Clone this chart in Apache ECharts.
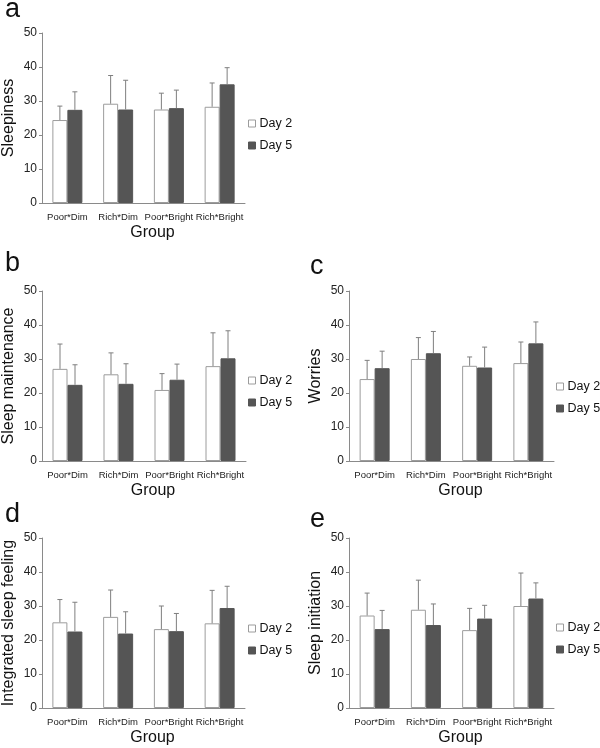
<!DOCTYPE html>
<html>
<head>
<meta charset="utf-8">
<script src="https://cdn.jsdelivr.net/npm/echarts@6/dist/echarts.min.js"></script>
<style>
html,body{margin:0;padding:0;background:#fff;}
#chart{width:600px;height:748px;}
</style>
</head>
<body>
<div id="chart"></div>
<script>
// ---- data ----
const categories = ['Poor*Dim', 'Rich*Dim', 'Poor*Bright', 'Rich*Bright'];
const legendNames = ['Day 2', 'Day 5'];
const panelLetters = ['a', 'b', 'c', 'd', 'e'];
const yAxisNames = ['Sleepiness', 'Sleep maintenance', 'Worries', 'Integrated sleep feeling', 'Sleep initiation'];
const xAxisName = 'Group';
const yTicks = [0, 10, 20, 30, 40, 50];

// means and upper ends of error bars (mean + SD)
const sleepinessDay2 = [24.4, 29.2, 27.5, 28.3];
const sleepinessDay2Upper = [28.5, 37.5, 32.3, 35.3];
const sleepinessDay5 = [27.4, 27.5, 27.9, 34.9];
const sleepinessDay5Upper = [32.7, 36.1, 33.2, 39.8];

const maintenanceDay2 = [27.1, 25.5, 20.9, 27.9];
const maintenanceDay2Upper = [34.4, 31.8, 25.7, 37.7];
const maintenanceDay5 = [22.4, 22.7, 23.9, 30.2];
const maintenanceDay5Upper = [28.3, 28.6, 28.5, 38.3];

const worriesDay2 = [24.1, 30.0, 28.0, 28.8];
const worriesDay2Upper = [29.6, 36.3, 30.6, 35.0];
const worriesDay5 = [27.3, 31.7, 27.5, 34.6];
const worriesDay5Upper = [32.3, 38.1, 33.5, 40.9];

const integratedDay2 = [25.2, 26.8, 23.2, 24.9];
const integratedDay2Upper = [31.9, 34.7, 30.0, 34.6];
const integratedDay5 = [22.5, 21.9, 22.6, 29.4];
const integratedDay5Upper = [31.1, 28.3, 27.8, 35.8];

const initiationDay2 = [27.2, 28.9, 22.9, 30.0];
const initiationDay2Upper = [33.8, 37.6, 29.3, 39.7];
const initiationDay5 = [23.2, 24.4, 26.3, 32.2];
const initiationDay5Upper = [28.7, 30.6, 30.2, 36.8];

const panelData = [
  [sleepinessDay2, sleepinessDay2Upper, sleepinessDay5, sleepinessDay5Upper],
  [maintenanceDay2, maintenanceDay2Upper, maintenanceDay5, maintenanceDay5Upper],
  [worriesDay2, worriesDay2Upper, worriesDay5, worriesDay5Upper],
  [integratedDay2, integratedDay2Upper, integratedDay5, integratedDay5Upper],
  [initiationDay2, initiationDay2Upper, initiationDay5, initiationDay5Upper]
];

// ---- layout ----
const FONT = '"Liberation Sans", Arial, Helvetica, sans-serif';
const grids = [
  {left: 41, top: 33, width: 204, height: 170},
  {left: 41, top: 291, width: 205, height: 170},
  {left: 349, top: 291, width: 205, height: 170},
  {left: 41, top: 538, width: 204, height: 170},
  {left: 349, top: 538, width: 205, height: 170}
];
const letterPos = [
  {left: 5, top: -4}, {left: 5, top: 250}, {left: 310, top: 253},
  {left: 5, top: 501}, {left: 310, top: 506}
];
const legendPos = [
  {left: 248, top: 117}, {left: 248, top: 374}, {left: 556, top: 380},
  {left: 248, top: 622}, {left: 556, top: 621}
];

const BAR_W = 15;
const AXIS_COLOR = '#8a8a8a';
const ERR_COLOR = '#7f7f7f';
const DARK = '#555555';
const WHITE_BORDER = '#9c9c9c';

function errRenderer(offset) {
  return function (params, api) {
    const idx = api.value(0);
    const mean = api.value(1);
    const up = api.value(2);
    const p0 = api.coord([idx, mean]);
    const p1 = api.coord([idx, up]);
    const x = p0[0] + offset;
    return {
      type: 'group',
      children: [
        {type: 'line', shape: {x1: x, y1: p0[1], x2: x, y2: p1[1]},
         style: {stroke: ERR_COLOR, lineWidth: 1}},
        {type: 'line', shape: {x1: x - 2.5, y1: p1[1], x2: x + 2.5, y2: p1[1]},
         style: {stroke: ERR_COLOR, lineWidth: 1}}
      ]
    };
  };
}

const option = {
  animation: false,
  backgroundColor: '#ffffff',
  textStyle: {fontFamily: FONT},
  title: panelLetters.map((t, i) => ({
    text: t, left: letterPos[i].left, top: letterPos[i].top, padding: 0,
    textStyle: {fontSize: 27, fontWeight: 'normal', color: '#111', fontFamily: FONT}
  })),
  legend: legendPos.map(p => ({
    data: legendNames, orient: 'vertical', left: p.left, top: p.top, padding: 0,
    itemWidth: 7, itemHeight: 7, itemGap: 9, selectedMode: false, icon: 'rect',
    itemStyle: {borderWidth: 1},
    textStyle: {fontSize: 12.5, color: '#111', fontFamily: FONT, padding: [0, 0, 0, -1]}
  })),
  grid: grids,
  xAxis: grids.map((g, i) => ({
    type: 'category', gridIndex: i, data: categories,
    name: xAxisName, nameLocation: 'middle', nameGap: 22,
    nameTextStyle: {fontSize: 16, color: '#111', fontFamily: FONT, padding: [0, 0, 0, 18]},
    axisLine: {lineStyle: {color: AXIS_COLOR, width: 1}},
    axisTick: {show: false},
    axisLabel: {fontSize: 9.5, color: '#222', margin: 9, interval: 0, fontFamily: FONT}
  })),
  yAxis: grids.map((g, i) => ({
    type: 'value', gridIndex: i, min: yTicks[0], max: yTicks[yTicks.length - 1], interval: 10,
    name: yAxisNames[i], nameLocation: 'middle', nameGap: 25, nameRotate: 90,
    nameTextStyle: {fontSize: 16, color: '#111', fontFamily: FONT},
    axisLine: {show: true, lineStyle: {color: AXIS_COLOR, width: 1}},
    axisTick: {show: true, length: 3, lineStyle: {color: AXIS_COLOR}},
    splitLine: {show: false},
    axisLabel: {fontSize: 12, color: '#222', margin: 5, fontFamily: FONT}
  })),
  series: []
};

panelData.forEach((d, i) => {
  const [d2, d2u, d5, d5u] = d;
  option.series.push({
    name: 'Day 2', type: 'bar', xAxisIndex: i, yAxisIndex: i, data: d2,
    barWidth: BAR_W, barGap: '0%',
    itemStyle: {color: '#ffffff', borderColor: WHITE_BORDER, borderWidth: 1}
  });
  option.series.push({
    name: 'Day 5', type: 'bar', xAxisIndex: i, yAxisIndex: i, data: d5,
    barWidth: BAR_W, barGap: '0%',
    itemStyle: {color: DARK, borderColor: DARK, borderWidth: 1}
  });
  option.series.push({
    name: 'err2_' + i, type: 'custom', xAxisIndex: i, yAxisIndex: i, z: 3,
    renderItem: errRenderer(-BAR_W / 2),
    data: d2.map((v, k) => [k, v, d2u[k]])
  });
  option.series.push({
    name: 'err5_' + i, type: 'custom', xAxisIndex: i, yAxisIndex: i, z: 3,
    renderItem: errRenderer(BAR_W / 2),
    data: d5.map((v, k) => [k, v, d5u[k]])
  });
});

const chart = echarts.init(document.getElementById('chart'), null, {renderer: 'canvas'});
chart.setOption(option);
</script>
</body>
</html>
